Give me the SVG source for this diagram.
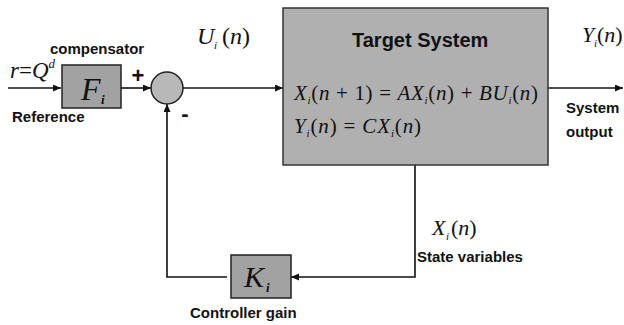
<svg xmlns="http://www.w3.org/2000/svg" width="624" height="325" viewBox="0 0 624 325">
<style>
.lbl{font-family:"Liberation Sans",Arial,sans-serif;font-weight:bold;font-size:15px;fill:#111}
.math{font-family:"Liberation Serif","Times New Roman",serif;fill:#111}
.it{font-style:italic}
.sub{font-style:italic;font-weight:bold}
.line{stroke:#111;stroke-width:1.6;fill:none}
.blk{fill:#a2a2a2;stroke:#222;stroke-width:1.5}
.sys{fill:#b0b0b0;stroke:#333;stroke-width:1.5}
.sum{fill:#b8b8b8;stroke:#222;stroke-width:1.5}
</style>
<defs>
<marker id="arr" markerWidth="9" markerHeight="8" refX="8" refY="3.5" orient="auto" markerUnits="userSpaceOnUse">
<path d="M0,0 L8,3.5 L0,7 z" fill="#111"/>
</marker>
</defs>
<rect width="624" height="325" fill="#fff"/>

<g id="connectors">
<path class="line" d="M8,88 H61" marker-end="url(#arr)"/>
<path class="line" d="M121,88 H151" marker-end="url(#arr)"/>
<path class="line" d="M183,88 H283" marker-end="url(#arr)"/>
<path class="line" d="M548,88 H623" marker-end="url(#arr)"/>
<path class="line" d="M415,165 V277 H291" marker-end="url(#arr)"/>
<path class="line" d="M227,277 H167 V104" marker-end="url(#arr)"/>
</g>

<g id="input-label">
<text class="math it" x="10" y="78" font-size="23">r<tspan font-style="normal">=</tspan>Q<tspan font-size="13" dy="-10">d</tspan></text>
<text class="lbl" x="12" y="122">Reference</text>
</g>

<g id="compensator">
<rect class="blk" x="62" y="65" width="59" height="43"/>
<text class="math it" x="81" y="100" font-size="32">F</text>
<text class="math sub" x="101" y="104" font-size="13">i</text>
<text class="lbl" x="50" y="54">compensator</text>
</g>

<g id="summing-junction">
<circle class="sum" cx="167" cy="88" r="16"/>
<text class="lbl" x="138" y="83" style="font-size:22px" text-anchor="middle">+</text>
<text class="lbl" x="185" y="121" style="font-size:22px" text-anchor="middle">-</text>
</g>

<g id="control-signal">
<text class="math it" x="197" y="44" font-size="24">U</text>
<text class="math it" x="214" y="49" font-size="11">i</text>
<text class="math" x="222" y="44" font-size="24">(<tspan font-style="italic">n</tspan>)</text>
</g>

<g id="target-system">
<rect class="sys" x="283" y="8" width="265" height="157"/>
<text class="lbl" x="352" y="47" style="font-size:20px">Target System</text>
<text class="math" x="294" y="100" font-size="21" textLength="244"><tspan font-style="italic">X</tspan><tspan font-size="11" font-style="italic" dy="4">i</tspan><tspan dy="-4">(</tspan><tspan font-style="italic">n</tspan> + 1) = <tspan font-style="italic">AX</tspan><tspan font-size="11" font-style="italic" dy="4">i</tspan><tspan dy="-4">(</tspan><tspan font-style="italic">n</tspan>) + <tspan font-style="italic">BU</tspan><tspan font-size="11" font-style="italic" dy="4">i</tspan><tspan dy="-4">(</tspan><tspan font-style="italic">n</tspan>)</text>
<text class="math" x="294" y="133" font-size="21" textLength="127"><tspan font-style="italic">Y</tspan><tspan font-size="11" font-style="italic" dy="4">i</tspan><tspan dy="-4">(</tspan><tspan font-style="italic">n</tspan>) = <tspan font-style="italic">CX</tspan><tspan font-size="11" font-style="italic" dy="4">i</tspan><tspan dy="-4">(</tspan><tspan font-style="italic">n</tspan>)</text>
</g>

<g id="output-label">
<text class="math it" x="582" y="42" font-size="22">Y</text>
<text class="math it" x="594" y="47" font-size="11">i</text>
<text class="math" x="597" y="42" font-size="22">(<tspan font-style="italic">n</tspan>)</text>
<text class="lbl" x="566" y="113">System</text>
<text class="lbl" x="566" y="137">output</text>
</g>

<g id="state-label">
<text class="math it" x="432" y="235" font-size="22">X</text>
<text class="math it" x="446" y="240" font-size="11">i</text>
<text class="math" x="451" y="235" font-size="22">(<tspan font-style="italic">n</tspan>)</text>
<text class="lbl" x="417" y="262">State variables</text>
</g>

<g id="controller-gain">
<rect class="blk" x="231" y="255" width="60" height="43"/>
<text class="math it" x="244" y="287" font-size="30">K</text>
<text class="math sub" x="266" y="292" font-size="13">i</text>
<text class="lbl" x="190" y="318">Controller gain</text>
</g>
</svg>
